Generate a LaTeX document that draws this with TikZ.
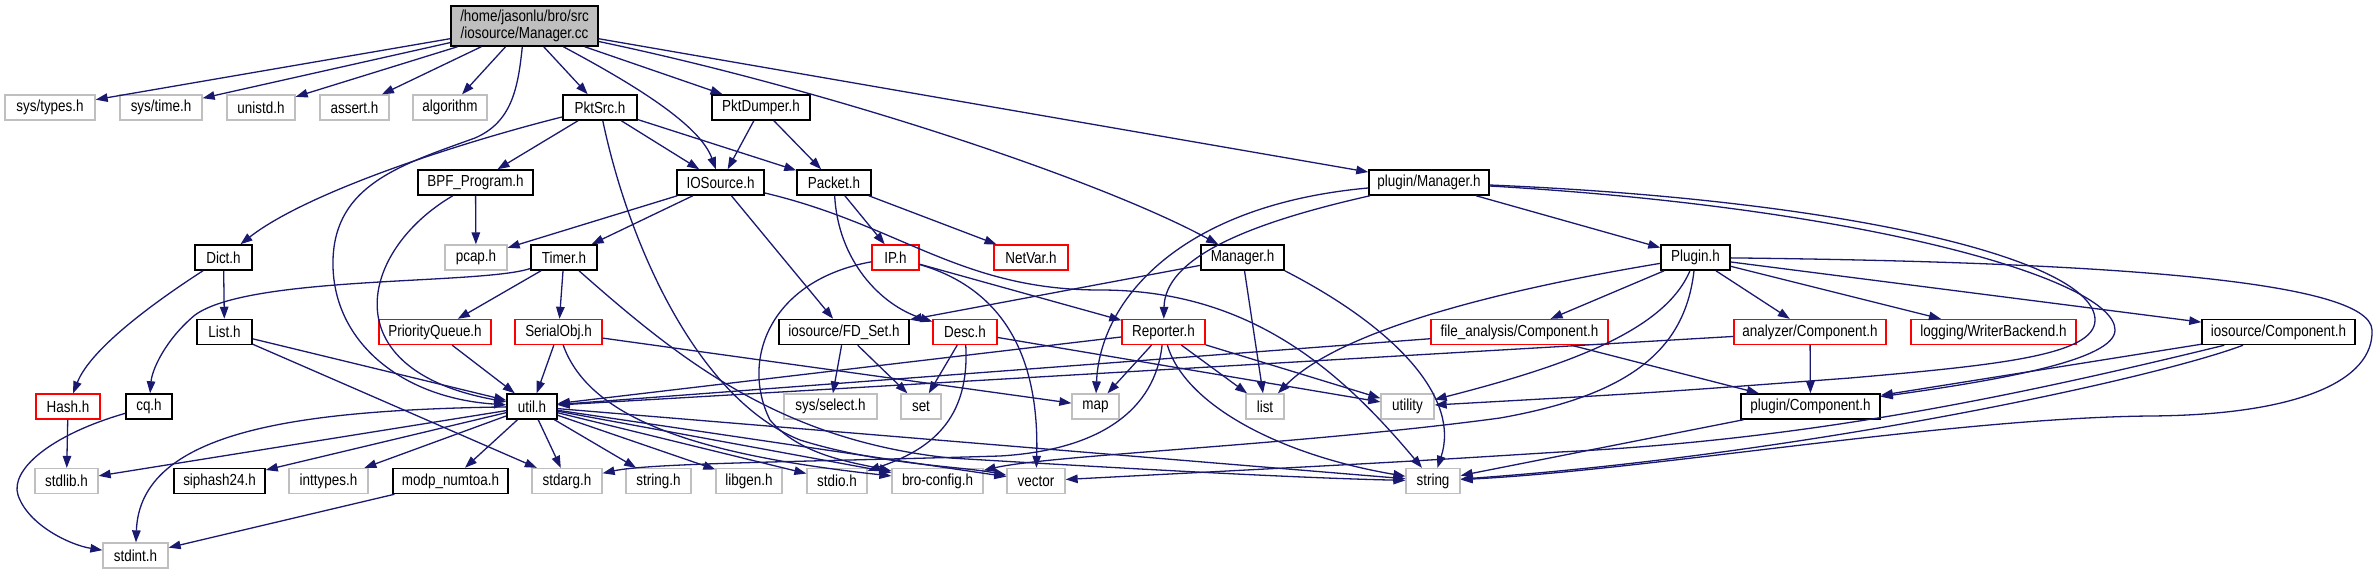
\documentclass[tikz,border=0pt]{standalone}
\usepackage{fontspec}
\setmainfont{Liberation Sans}[FakeStretch=0.84]
\usetikzlibrary{arrows.meta}
\definecolor{edgeblue}{RGB}{25,25,112}
\definecolor{boxgray}{RGB}{191,191,191}
\tikzset{
  base/.style={rectangle, inner sep=0pt, minimum height=25pt, fill=white,
    font=\fontsize{16}{17.5}\selectfont, text=black},
  gb/.style={base, draw=boxgray, line width=1.3pt},
  rb/.style={base, draw=red, line width=1.3pt},
  kb/.style={base, draw=black, line width=1.5pt},
  dep/.style={draw=edgeblue, line width=1.3pt, -{Triangle[length=12pt,width=8.5pt]}},
}
\begin{document}
\begin{tikzpicture}[x=1pt,y=-1pt]
\useasboundingbox (0,0) rectangle (2379,575);
% top
\node[kb, fill=boxgray, minimum width=147pt, minimum height=40pt, align=center] (mcc) at (524.5,26) {/home/jasonlu/bro/src\\/iosource/Manager.cc};
% row 1
\node[gb, minimum width=90pt] (systypes) at (50,107.5) {sys/types.h};
\node[gb, minimum width=82pt] (systime) at (161,107.5) {sys/time.h};
\node[gb, minimum width=68pt] (unistd) at (261,107.5) {unistd.h};
\node[gb, minimum width=69pt] (assert) at (354.5,107.5) {assert.h};
\node[gb, minimum width=74pt] (algorithm) at (450,107.5) {algorithm};
\node[kb, minimum width=74pt] (pktsrc) at (600,107.5) {PktSrc.h};
\node[kb, minimum width=98pt] (pktdumper) at (761,107.5) {PktDumper.h};
% row 2
\node[kb, minimum width=115pt] (bpf) at (475.5,182.5) {BPF\_Program.h};
\node[kb, minimum width=87pt] (iosource) at (720.5,182.5) {IOSource.h};
\node[kb, minimum width=74pt] (packet) at (834,182.5) {Packet.h};
\node[kb, minimum width=120pt] (pmanager) at (1429,182.5) {plugin/Manager.h};
% row 3
\node[kb, minimum width=57pt] (dict) at (223.5,257.5) {Dict.h};
\node[gb, minimum width=62pt] (pcap) at (476,257.5) {pcap.h};
\node[kb, minimum width=66pt] (timer) at (564,257.5) {Timer.h};
\node[rb, minimum width=47pt] (ip) at (895.5,257.5) {IP.h};
\node[rb, minimum width=74pt] (netvar) at (1031,257.5) {NetVar.h};
\node[kb, minimum width=83pt] (managerh) at (1242.5,257.5) {Manager.h};
\node[kb, minimum width=69pt] (plugin) at (1695.5,257.5) {Plugin.h};
% row 4
\node[kb, minimum width=55pt] (listh) at (224.5,332) {List.h};
\node[rb, minimum width=112pt] (pq) at (435,332) {PriorityQueue.h};
\node[rb, minimum width=87pt] (serialobj) at (558.5,332) {SerialObj.h};
\node[kb, minimum width=130pt] (fdset) at (844,332) {iosource/FD\_Set.h};
\node[rb, minimum width=64pt] (desc) at (965,332) {Desc.h};
\node[rb, minimum width=83pt] (reporter) at (1163.5,332) {Reporter.h};
\node[rb, minimum width=177pt] (facomp) at (1519.5,332) {file\_analysis/Component.h};
\node[rb, minimum width=152pt] (ancomp) at (1810,332) {analyzer/Component.h};
\node[rb, minimum width=165pt] (logging) at (1993.5,332) {logging/WriterBackend.h};
\node[kb, minimum width=153pt] (iocomp) at (2278.5,332) {iosource/Component.h};
% row 5
\node[rb, minimum width=64pt] (hash) at (68,406.5) {Hash.h};
\node[kb, minimum width=46pt] (cq) at (149,406.5) {cq.h};
\node[kb, minimum width=50pt] (util) at (532,406.5) {util.h};
\node[gb, minimum width=93pt] (sysselect) at (830.5,406.5) {sys/select.h};
\node[gb, minimum width=40pt] (set) at (921,406.5) {set};
\node[gb, minimum width=47pt] (map) at (1095.5,406.5) {map};
\node[gb, minimum width=38pt] (list) at (1265,406.5) {list};
\node[gb, minimum width=53pt] (utility) at (1407.5,406.5) {utility};
\node[kb, minimum width=139pt] (pcomp) at (1810.5,406.5) {plugin/Component.h};
% row 6
\node[gb, minimum width=63pt] (stdlib) at (66.5,481) {stdlib.h};
\node[kb, minimum width=91pt] (siphash) at (219.5,481) {siphash24.h};
\node[gb, minimum width=79pt] (inttypes) at (328.5,481) {inttypes.h};
\node[kb, minimum width=115pt] (modp) at (450.5,481) {modp\_numtoa.h};
\node[gb, minimum width=70pt] (stdarg) at (567,481) {stdarg.h};
\node[gb, minimum width=65pt] (stringh) at (658.5,481) {string.h};
\node[gb, minimum width=66pt] (libgen) at (749,481) {libgen.h};
\node[gb, minimum width=60pt] (stdio) at (837,481) {stdio.h};
\node[gb, minimum width=91pt] (broconfig) at (937.5,481) {bro-config.h};
\node[gb, minimum width=58pt] (vector) at (1036,481) {vector};
\node[gb, minimum width=54pt] (string) at (1433,481) {string};
% row 7
\node[gb, minimum width=65pt] (stdint) at (135.5,555.5) {stdint.h};

% ---- edges ----
\foreach \t in {systypes,systime,unistd,assert,algorithm,pktsrc,pktdumper,pmanager}
  \draw[dep] (mcc) -- (\t);
\draw[dep] (mcc) .. controls (635,85) and (700,125) .. (iosource);
\draw[dep] (mcc) .. controls (830,90) and (1100,180) .. (managerh);
\draw[dep] (mcc) .. controls (518,88) and (512,122) .. (475,138)
  .. controls (400,165) and (335,185) .. (333,260)
  .. controls (331,340) and (400,398) .. (util);
% PktSrc
\draw[dep] (pktsrc) .. controls (470,140) and (310,190) .. (dict);
\foreach \t in {bpf,iosource,packet} \draw[dep] (pktsrc) -- (\t);
\draw[dep] (pktsrc) .. controls (630,250) and (700,400) .. (800,440)
  .. controls (880,465) and (960,466) .. (vector);
% PktDumper
\foreach \t in {iosource,packet} \draw[dep] (pktdumper) -- (\t);
% BPF
\draw[dep] (bpf) -- (pcap);
\draw[dep] (bpf) .. controls (360,250) and (330,370) .. (util);
% IOSource
\foreach \t in {pcap,timer,fdset} \draw[dep] (iosource) -- (\t);
\draw[dep] (iosource) .. controls (900,225) and (960,290) .. (1100,290)
  .. controls (1250,290) and (1340,370) .. (string);
% Packet
\foreach \t in {ip,netvar} \draw[dep] (packet) -- (\t);
\draw[dep] (packet) .. controls (838,260) and (880,305) .. (desc);
% plugin/Manager.h
\draw[dep] (pmanager) .. controls (1180,205) and (1100,300) .. (map);
\draw[dep] (pmanager) .. controls (1240,225) and (1165,260) .. (reporter);
\draw[dep] (pmanager) -- (plugin);
\draw[dep] (pmanager) .. controls (1850,200) and (2095,260) .. (2095,320)
  .. controls (2095,355) and (2000,365) .. (1850,378)
  .. controls (1650,393) .. (utility);
\draw[dep] (pmanager) .. controls (1870,208) and (2115,280) .. (2115,330)
  .. controls (2115,360) and (2000,380) .. (pcomp);
% Plugin.h
\draw[dep] (plugin) .. controls (1500,290) and (1340,330) .. (list);
\foreach \t in {facomp,ancomp,logging,iocomp} \draw[dep] (plugin) -- (\t);
\draw[dep] (plugin) .. controls (1665,330) and (1570,365) .. (utility);
\draw[dep] (plugin) .. controls (1685,350) and (1630,395) .. (1500,418)
  .. controls (1300,445) and (1050,455) .. (broconfig);
\draw[dep] (plugin) .. controls (2100,262) and (2370,280) .. (2372,330)
  .. controls (2374,380) and (2300,415) .. (2150,416)
  .. controls (1950,418) and (1650,470) .. (string);
% components
\foreach \t in {util,pcomp} \draw[dep] (facomp) -- (\t);
\foreach \t in {util,pcomp} \draw[dep] (ancomp) -- (\t);
\draw[dep] (iocomp) -- (pcomp);
\draw[dep] (iocomp) .. controls (2000,400) and (1800,440) .. (1560,452)
  .. controls (1400,462) .. (vector);
\draw[dep] (iocomp) .. controls (2150,380) and (1800,455) .. (string);
\draw[dep] (pcomp) -- (string);
% Manager.h
\foreach \t in {fdset,list} \draw[dep] (managerh) -- (\t);
\draw[dep] (managerh.south east) .. controls (1400,330) and (1460,400) .. (string);
% Reporter.h
\foreach \t in {util,map,list,utility} \draw[dep] (reporter) -- (\t);
\draw[dep] (reporter) .. controls (1155,410) and (1100,450) .. (1000,456)
  .. controls (800,462) and (650,463) .. (stdarg);
\draw[dep] (reporter) .. controls (1185,405) and (1280,455) .. (string);
% IP.h
\draw[dep] (ip) .. controls (770,280) and (740,360) .. (770,420)
  .. controls (800,455) and (850,462) .. (broconfig);
\draw[dep] (ip) .. controls (990,285) and (1040,340) .. (vector);
\draw[dep] (ip) -- (reporter);
% Desc.h
\draw[dep] (desc) -- (set);
\draw[dep] (desc) .. controls (970,420) and (930,450) .. (stdio);
\draw[dep] (desc) -- (utility);
% FD_Set
\foreach \t in {sysselect,set} \draw[dep] (fdset) -- (\t);
% Timer.h
\draw[dep] (timer) .. controls (480,285) and (250,275) .. (195,315)
  .. controls (165,340) and (152,370) .. (cq);
\foreach \t in {pq,serialobj} \draw[dep] (timer) -- (\t);
\draw[dep] (timer) .. controls (680,360) and (780,440) .. (950,458)
  .. controls (1150,470) and (1300,478) .. (string);
% SerialObj.h
\foreach \t in {util,map} \draw[dep] (serialobj) -- (\t);
\draw[dep] (serialobj) .. controls (590,420) and (700,455) .. (broconfig);
% others
\draw[dep] (pq) -- (util);
\foreach \t in {util,stdarg} \draw[dep] (listh) -- (\t);
\draw[dep] (dict) -- (listh);
\draw[dep] (dict) .. controls (150,305) and (90,350) .. (hash);
\draw[dep] (hash) -- (stdlib);
\draw[dep] (cq) .. controls (50,435) and (10,470) .. (18,495)
  .. controls (28,525) and (70,545) .. (stdint);
\draw[dep] (modp) -- (stdint);
% util.h
\draw[dep] (util) .. controls (300,410) and (140,430) .. (stdint);
\foreach \t in {stdlib,siphash,inttypes,modp,stdarg,stringh,libgen,stdio,broconfig,vector,string}
  \draw[dep] (util) -- (\t);
\end{tikzpicture}
\end{document}
